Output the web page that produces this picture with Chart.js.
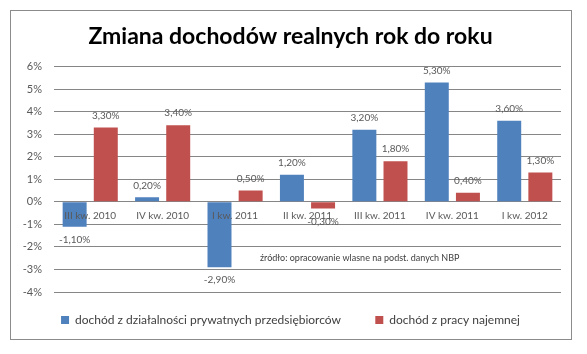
<!DOCTYPE html>
<html>
<head>
<meta charset="utf-8">
<script src="https://cdn.jsdelivr.net/npm/chart.js@4"></script>
<style>
  html, body { margin: 0; padding: 0; background: #fff; }
  #wrap { width: 587px; height: 354px; }
</style>
</head>
<body>
<div id="wrap"><canvas id="chart" width="587" height="354"></canvas></div>
<script>
let categories = [
    "III kw. 2010", "IV kw. 2010", "I kw. 2011", "II kw. 2011",
    "III kw. 2011", "IV kw. 2011", "I kw. 2012"
];
let przedsiebiorcy = [-1.1, 0.2, -2.9, 1.2, 3.2, 5.3, 3.6];
let najemna = [3.3, 3.4, 0.5, -0.3, 1.8, 0.4, 1.3];
let seriesNames = [
    "dochód z działalności prywatnych przedsiębiorców",
    "dochód z pracy najemnej"
];
let titleText = "Zmiana dochodów realnych rok do roku";
let sourceText = "źródło: opracowanie wlasne na podst. danych NBP";

const FONT = "Lato, 'Liberation Sans', sans-serif";

// ramka wokół wykresu + opis źródła + etykiety wartości
const extras = {
    id: 'extras',
    beforeDraw(chart) {
        const ctx = chart.ctx;
        ctx.save();
        ctx.fillStyle = '#fff';
        ctx.fillRect(0, 0, chart.width, chart.height);
        ctx.strokeStyle = '#8c8c8c';
        ctx.lineWidth = 1;
        ctx.strokeRect(10.5, 10.5, 561, 329);
        ctx.restore();
    },
    afterDatasetsDraw(chart) {
        const ctx = chart.ctx;
        ctx.save();
        ctx.font = '10px ' + FONT;
        ctx.fillStyle = '#595959';
        ctx.textAlign = 'center';
        ctx.textBaseline = 'middle';
        chart.data.datasets.forEach((ds, i) => {
            chart.getDatasetMeta(i).data.forEach((bar, j) => {
                let v = ds.data[j];
                let txt = v.toFixed(2).replace('.', ',') + '%';
                let y = v >= 0 ? bar.y - 12 : bar.y + 13;
                ctx.fillText(txt, bar.x, y);
            });
        });
        // źródło
        ctx.font = '9px ' + FONT;
        ctx.fillStyle = '#404040';
        ctx.textAlign = 'left';
        ctx.fillText(sourceText, 260, 258);
        ctx.restore();
    }
};

new Chart(document.getElementById('chart'), {
    type: 'bar',
    data: {
        labels: categories,
        datasets: [{
            label: seriesNames[0],
            data: przedsiebiorcy,
            backgroundColor: '#4F81BD',
            categoryPercentage: 0.86,
            barPercentage: 0.77
        }, {
            label: seriesNames[1],
            data: najemna,
            backgroundColor: '#C0504D',
            categoryPercentage: 0.86,
            barPercentage: 0.77
        }]
    },
    options: {
        responsive: false,
        animation: false,
        layout: {
            padding: { left: 20, right: 26, top: 12, bottom: 18 }
        },
        plugins: {
            title: {
                display: true,
                text: titleText,
                color: '#000',
                font: { family: FONT, size: 23, weight: 'bold' },
                padding: { top: 11, bottom: 16 }
            },
            legend: {
                position: 'bottom',
                labels: {
                    boxWidth: 8,
                    boxHeight: 8,
                    padding: 22,
                    color: '#404040',
                    font: { family: FONT, size: 12 },
                    generateLabels(chart) {
                        let items = Chart.defaults.plugins.legend.labels.generateLabels(chart);
                        // trochę więcej odstępu między pozycjami legendy
                        items[0].text += '    ';
                        return items;
                    }
                }
            },
            tooltip: { enabled: false }
        },
        scales: {
            x: {
                position: { y: 0 },
                grid: { display: false },
                border: { display: false },
                ticks: {
                    z: 1,
                    color: '#595959',
                    font: { family: FONT, size: 10 },
                    padding: 0,
                    maxRotation: 0,
                    autoSkip: false
                }
            },
            y: {
                min: -4,
                max: 6,
                border: { display: false },
                grid: { color: '#868686', drawTicks: false },
                ticks: {
                    stepSize: 1,
                    padding: 12,
                    color: '#595959',
                    font: { family: FONT, size: 11 },
                    callback: v => v + '%'
                },
                afterFit(scale) { scale.width = 34; }
            }
        }
    },
    plugins: [extras]
});
</script>
</body>
</html>
